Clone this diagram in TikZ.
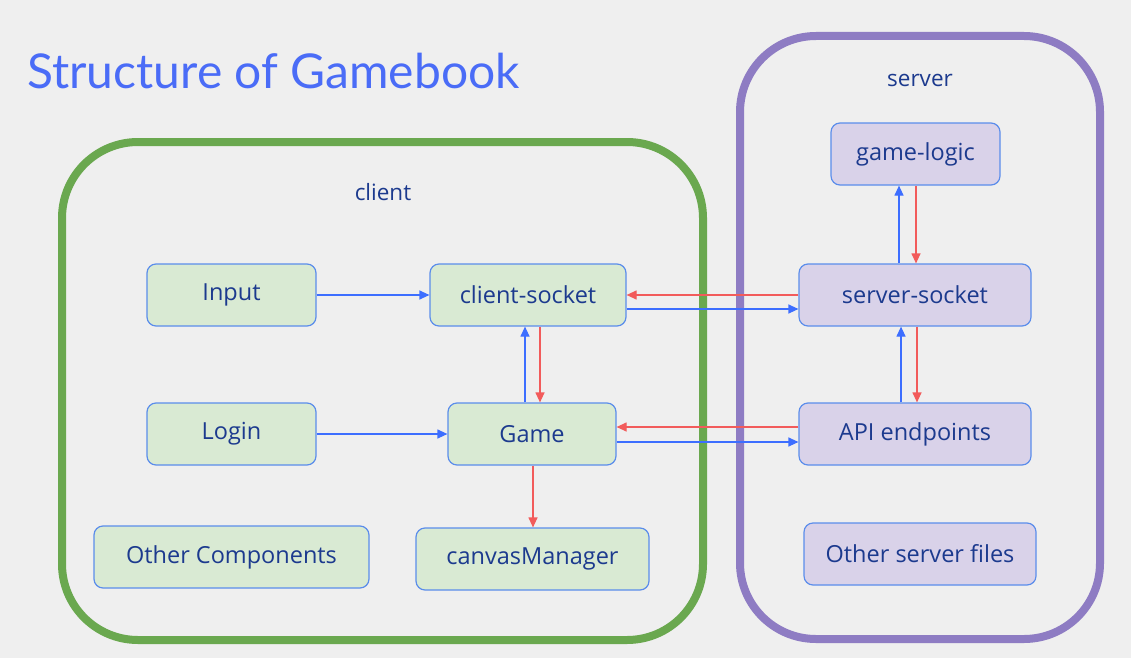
\documentclass[tikz,border=0pt]{standalone}
\usepackage{fontspec}
\setmainfont{Open Sans}
\newfontfamily\titlefont{Lato}
\usetikzlibrary{arrows.meta}
\definecolor{bg}{HTML}{EFEFEF}
\definecolor{titleblue}{HTML}{4A6CF7}
\definecolor{txt}{HTML}{1C3A8E}
\definecolor{nodeborder}{HTML}{5B8DEB}
\definecolor{greenfill}{HTML}{D9EAD3}
\definecolor{purplefill}{HTML}{D9D2E9}
\definecolor{greenframe}{HTML}{6AA84F}
\definecolor{purpleframe}{HTML}{8E7CC3}
\definecolor{arrblue}{HTML}{3D6EFF}
\definecolor{arrred}{HTML}{F25B5B}
\tikzset{
  box/.style={draw=nodeborder, line width=1.2pt, rounded corners=9pt, text=txt,
    font=\fontsize{23.5}{28}\selectfont, inner sep=0pt},
  gbox/.style={box, fill=greenfill},
  pbox/.style={box, fill=purplefill},
  frame/.style={line width=8pt, rounded corners=76pt},
  lbl/.style={text=txt, font=\fontsize{22.5}{27}\selectfont},
  barr/.style={draw=arrblue, line width=1.2pt, -{Triangle[length=10pt,width=9pt]}},
  rarr/.style={draw=arrred, line width=1.2pt, -{Triangle[length=10pt,width=9pt]}},
}
\begin{document}
\begin{tikzpicture}[x=1pt,y=-1pt]
\fill[bg] (0,0) rectangle (1131,658);
\useasboundingbox (0,0) rectangle (1131,658);
\node[anchor=west, text=titleblue, font=\titlefont\fontsize{48}{52}\selectfont, inner sep=0pt] (title) at (27,71) {Structure of Gamebook};
% frames
\draw[frame, greenframe] (62,142) rectangle (703,640);
\draw[frame, purpleframe] (740,36) rectangle (1100,639);
\node[lbl] (clientlbl) at (383,192) {client};
\node[lbl] (serverlbl) at (920,80) {server};
% client nodes
\node[gbox, minimum width=169pt, minimum height=62pt] (input) at (231.5,295) {Input};
\node[gbox, minimum width=196pt, minimum height=62pt] (csock) at (528,295) {client-socket};
\node[gbox, minimum width=169pt, minimum height=62pt] (login) at (231.5,434) {Login};
\node[gbox, minimum width=168pt, minimum height=62pt] (game) at (532,434) {Game};
\node[gbox, minimum width=275pt, minimum height=62pt] (other) at (231.5,557) {Other Components};
\node[gbox, minimum width=233pt, minimum height=62pt] (canvas) at (532.5,559) {canvasManager};
% server nodes
\node[pbox, minimum width=169pt, minimum height=62pt] (glogic) at (915.5,154) {game-logic};
\node[pbox, minimum width=232pt, minimum height=62pt] (ssock) at (915,295) {server-socket};
\node[pbox, minimum width=232pt, minimum height=62pt] (api) at (915,434) {API endpoints};
\node[pbox, minimum width=232pt, minimum height=62pt] (sfiles) at (920,554) {Other server files};
% arrows
\draw[barr] (input.east) -- (csock.west);
\draw[barr] (login.east) -- (game.west);
\draw[barr] (csock.east |- 0,309) -- (ssock.west |- 0,309);
\draw[rarr] (ssock.west) -- (csock.east);
\draw[barr] (game.east |- 0,442) -- (api.west |- 0,442);
\draw[rarr] (api.west |- 0,427) -- (game.east |- 0,427);
\draw[barr] (game.north -| 525,0) -- (csock.south -| 525,0);
\draw[rarr] (csock.south -| 540,0) -- (game.north -| 540,0);
\draw[rarr] (game.south -| 533,0) -- (canvas.north -| 533,0);
\draw[barr] (ssock.north -| 899,0) -- (glogic.south -| 899,0);
\draw[rarr] (glogic.south -| 916,0) -- (ssock.north -| 916,0);
\draw[barr] (api.north -| 901,0) -- (ssock.south -| 901,0);
\draw[rarr] (ssock.south -| 917,0) -- (api.north -| 917,0);
\end{tikzpicture}
\end{document}
